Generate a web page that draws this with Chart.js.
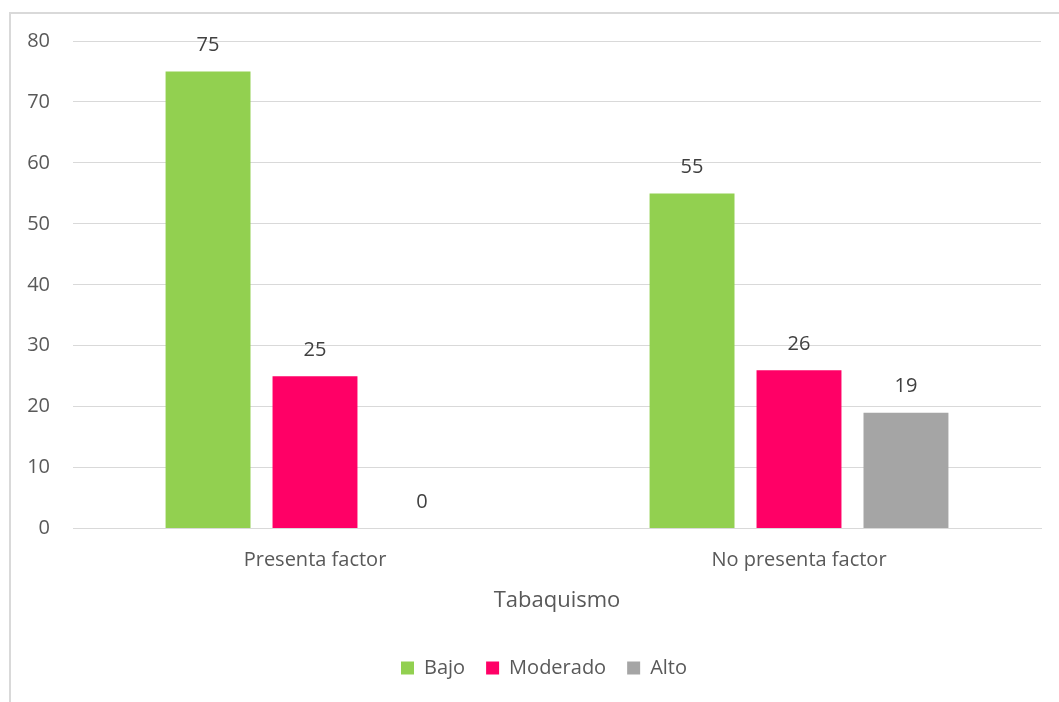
<!DOCTYPE html>
<html>
<head>
<meta charset="utf-8">
<script src="https://cdn.jsdelivr.net/npm/chart.js@4"></script>
<style>
  html, body { margin: 0; padding: 0; background: #ffffff; overflow: hidden; }
  #frame {
    position: absolute;
    left: 9px;
    top: 12px;
    width: 1100px;
    height: 720px;
    border-left: 2px solid #d9d9d9;
    border-top: 2px solid #d9d9d9;
  }
  #wrap { position: absolute; left: 0; top: 0; width: 1048px; height: 688px; }
</style>
</head>
<body>
<div id="frame">
  <div id="wrap"><canvas id="tabaquismoChart"></canvas></div>
</div>
<script>
const categories = ['Presenta factor', 'No presenta factor'];
const seriesNames = ['Bajo', 'Moderado', 'Alto'];
const bajo = [75, 55];
const moderado = [25, 26];
const alto = [0, 19];
const yTicks = [0, 10, 20, 30, 40, 50, 60, 70, 80];

const FONT = '"Open Sans", Lato, sans-serif';
const TEXT = '#595959';

// value labels drawn above each bar
const barLabels = {
  id: 'barLabels',
  afterDatasetsDraw(chart) {
    const ctx = chart.ctx;
    ctx.save();
    ctx.font = '20px ' + FONT;
    ctx.fillStyle = '#404040';
    ctx.textAlign = 'center';
    ctx.textBaseline = 'middle';
    chart.data.datasets.forEach((ds, i) => {
      const meta = chart.getDatasetMeta(i);
      meta.data.forEach((bar, j) => {
        ctx.fillText(String(ds.data[j]), bar.x, bar.y - 26);
      });
    });
    ctx.restore();
  }
};

// nudge the legend row a little to the right
const legendShift = {
  id: 'legendShift',
  afterLayout(chart) {
    chart.legend.left += 18;
    chart.legend.right += 18;
  }
};

new Chart(document.getElementById('tabaquismoChart'), {
  type: 'bar',
  data: {
    labels: categories,
    datasets: [
      { label: seriesNames[0], data: bajo, backgroundColor: '#92d050' },
      { label: seriesNames[1], data: moderado, backgroundColor: '#ff0066' },
      { label: seriesNames[2], data: alto, backgroundColor: '#a5a5a5' }
    ]
  },
  options: {
    responsive: true,
    maintainAspectRatio: false,
    animation: false,
    categoryPercentage: 0.663,
    barPercentage: 0.794,
    layout: { padding: { top: 27, right: 18, bottom: 14, left: 0 } },
    plugins: {
      legend: {
        position: 'bottom',
        labels: {
          boxWidth: 13,
          boxHeight: 13,
          padding: 21,
          color: TEXT,
          font: { family: FONT, size: 20 }
        }
      },
      tooltip: { enabled: false }
    },
    scales: {
      x: {
        grid: { display: false, drawTicks: false },
        border: { display: true, color: '#d9d9d9', width: 1 },
        ticks: { color: TEXT, font: { family: FONT, size: 20 }, padding: 20 },
        title: {
          display: true,
          text: 'Tabaquismo',
          color: TEXT,
          font: { family: FONT, size: 22 },
          padding: { top: -5, bottom: 23 }
        }
      },
      y: {
        min: 0,
        max: 80,
        afterBuildTicks(scale) {
          scale.ticks = yTicks.map(v => ({ value: v }));
        },
        afterFit(scale) {
          scale.width = 62;
        },
        grid: { color: '#d9d9d9', lineWidth: 1, drawTicks: true, tickLength: 23, tickColor: 'rgba(0,0,0,0)' },
        border: { display: false },
        ticks: { color: TEXT, font: { family: FONT, size: 20 }, padding: 0 }
      }
    }
  },
  plugins: [barLabels, legendShift]
});
</script>
</body>
</html>
